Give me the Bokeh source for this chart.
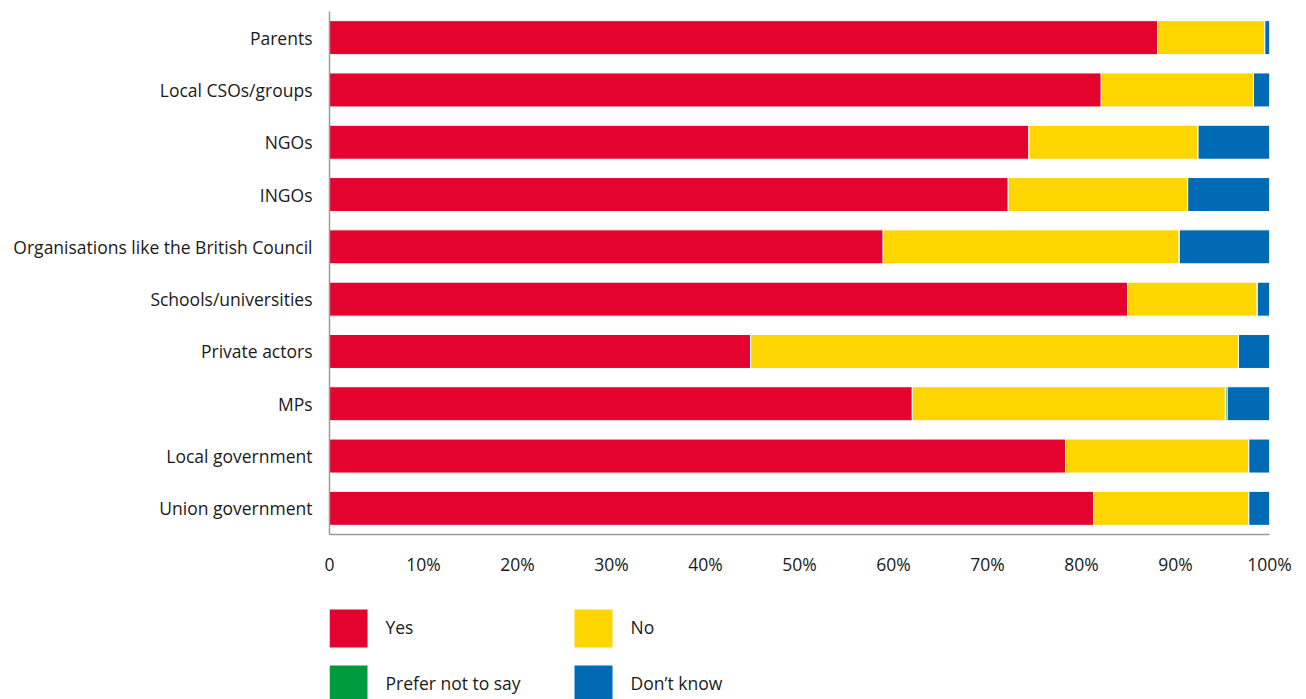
from bokeh.plotting import figure
from bokeh.models import FactorRange, Range1d, FixedTicker, ColumnDataSource
from bokeh.layouts import column
from bokeh.core.properties import value
from bokeh.embed import file_html
from bokeh.resources import INLINE

categories = ["Parents", "Local CSOs/groups", "NGOs", "INGOs",
              "Organisations like the British Council", "Schools/universities",
              "Private actors", "MPs", "Local government", "Union government"]
yes = [88.1, 82.1, 74.4, 72.2, 58.9, 84.9, 44.8, 62.0, 78.3, 81.3]
no = [11.4, 16.2, 18.0, 19.1, 31.5, 13.8, 51.9, 33.3, 19.5, 16.5]
prefer = [0.0, 0.0, 0.0, 0.0, 0.0, 0.0, 0.0, 0.2, 0.0, 0.0]
dont_know = [0.5, 1.7, 7.6, 8.7, 9.6, 1.3, 3.3, 4.5, 2.2, 2.2]

series_keys = ["yes", "no", "prefer", "dk"]
series_names = ["Yes", "No", "Prefer not to say", "Don\u2019t know"]
series_colors = ["#E4032E", "#FFD500", "#009A3E", "#006AB4"]
tick_values = [0, 10, 20, 30, 40, 50, 60, 70, 80, 90, 100]
tick_labels = ["0", "10%", "20%", "30%", "40%", "50%", "60%", "70%", "80%", "90%", "100%"]

FONT = "Open Sans"
FONT_SIZE = "17.5px"
TEXT_COLOR = "#1a1a1a"

W = 1300
LEFT = 329
RIGHT = 31

source = ColumnDataSource(dict(cat=categories, yes=yes, no=no, prefer=prefer, dk=dont_know))

p = figure(width=W, height=583, output_backend="svg", toolbar_location=None,
           y_range=FactorRange(*reversed(categories), range_padding=0),
           x_range=Range1d(0, 100),
           min_border_left=LEFT, min_border_right=RIGHT, min_border_top=11, min_border_bottom=49)

p.hbar_stack(series_keys, y="cat", height=0.65, source=source, color=series_colors,
             line_color="white", line_width=1)

p.outline_line_color = None
p.xgrid.visible = False
p.ygrid.visible = False

p.xaxis.ticker = FixedTicker(ticks=tick_values)
p.xaxis.major_label_overrides = {v: l for v, l in zip(tick_values, tick_labels)}
for ax in (p.xaxis[0], p.yaxis[0]):
    ax.major_tick_out = 0
    ax.major_tick_in = 0
    ax.minor_tick_out = 0
    ax.minor_tick_in = 0
    ax.axis_line_color = "#9a9a9a"
    ax.axis_line_width = 1.5
    ax.major_label_text_font = FONT
    ax.major_label_text_font_size = FONT_SIZE
    ax.major_label_text_color = TEXT_COLOR
p.xaxis.major_label_standoff = 17
p.yaxis.major_label_standoff = 17

# Legend as a separate small figure; its frame is aligned with the main frame,
# so its x range is expressed in page pixels (frame spans LEFT .. W-RIGHT).
LH = 116
lg = figure(width=W, height=LH, output_backend="svg", toolbar_location=None,
            x_range=Range1d(LEFT, W - RIGHT), y_range=Range1d(LH, 0),
            min_border_left=LEFT, min_border_right=RIGHT, min_border_top=0, min_border_bottom=0)
lg.axis.visible = False
lg.xgrid.visible = False
lg.ygrid.visible = False
lg.outline_line_color = None

col_x = [329, 574]
row_y = [26, 82]
sq = 38
lx0, lx1, ly0, ly1, tx, ty = [], [], [], [], [], []
for i in range(len(series_names)):
    c = i % 2
    r = i // 2
    lx0.append(col_x[c]); lx1.append(col_x[c] + sq)
    ly0.append(row_y[r]); ly1.append(row_y[r] + sq)
    tx.append(col_x[c] + sq + 18); ty.append(row_y[r] + sq / 2 - 1.5)

lg.quad(left=lx0, right=lx1, top=ly0, bottom=ly1, color=series_colors, line_color=None)
lg.text(x=tx, y=ty, text=series_names, text_font=value(FONT), text_font_size=FONT_SIZE,
        text_color=TEXT_COLOR, text_baseline="middle", text_align="left")

layout = column(p, lg, spacing=0)
open("out.html", "w").write(file_html(layout, INLINE))
